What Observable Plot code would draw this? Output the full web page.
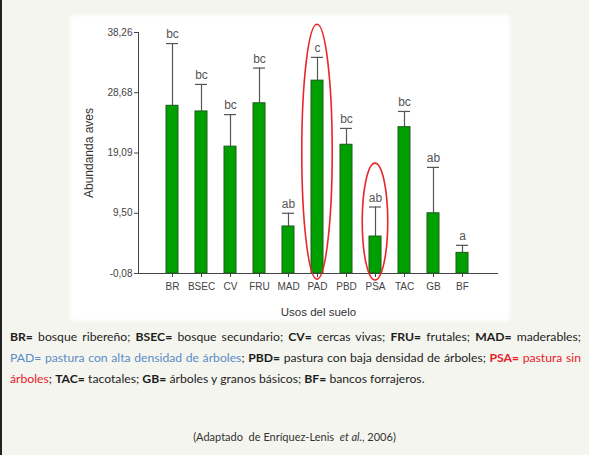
<!DOCTYPE html>
<html><head><meta charset="utf-8">
<script src="https://cdn.jsdelivr.net/npm/d3@7"></script>
<script src="https://cdn.jsdelivr.net/npm/@observablehq/plot@0.6"></script>
<style>
body{margin:0;width:589px;height:455px;background:#f4f5ee;position:relative;overflow:hidden;font-family:Lato,sans-serif}
#border{position:absolute;left:0;top:0;width:2px;height:455px;background:#222}
#panel{position:absolute;left:72px;top:17px;width:436px;height:302px;background:#fff;box-shadow:0 0 4px 2px rgba(255,255,255,0.9)}
#caption{position:absolute;left:10px;top:326px;width:571px;font-size:12.2px;line-height:21px;color:#1e1e1e}
#caption div{white-space:nowrap;text-align:justify;text-align-last:justify}
#caption div.last{text-align-last:left}
#caption b{font-weight:700}
.blue{color:#5b8cc8}
.red{color:#e8202a}
#source{position:absolute;left:0;top:430px;width:589px;text-align:center;font-size:11px;color:#333}
</style></head><body>
<div id="border"></div>
<div id="panel"></div>
<div id="caption">
<div><b>BR=</b> bosque ribereño; <b>BSEC=</b> bosque secundario; <b>CV=</b> cercas vivas; <b>FRU=</b> frutales; <b>MAD=</b> maderables;</div>
<div><span class="blue">PAD= pastura con alta densidad de árboles</span>; <b>PBD=</b> pastura con baja densidad de árboles; <span class="red"><b>PSA=</b> pastura sin</span></div>
<div class="last"><span class="red">árboles</span>; <b>TAC=</b> tacotales; <b>GB=</b> árboles y granos básicos; <b>BF=</b> bancos forrajeros.</div>
</div>
<div id="source">(Adaptado&nbsp; de Enríquez-Lenis&nbsp; <i>et al.</i>, 2006)</div>
<script>
const categories = ["BR","BSEC","CV","FRU","MAD","PAD","PBD","PSA","TAC","GB","BF"];
const means      = [26.6, 25.7, 20.1, 27.0, 7.4, 30.6, 20.4, 5.8, 23.2, 9.5, 3.2];
const errorTops  = [36.5, 30.0, 25.2, 32.6, 9.5, 34.3, 23.0, 10.5, 25.7, 16.8, 4.4];
const letters    = ["bc","bc","bc","bc","ab","c","bc","ab","bc","ab","a"];
const yTicks     = [-0.08, 9.50, 19.09, 28.68, 38.26];
const highlighted     = ["PAD","PSA"];
const highlightTop    = [39.5, 17.4];
const highlightBottom = [-1.05, -1.2];
const highlightWidth  = [1.05, 0.88];

const data = categories.map((c, i) => ({cat: c, mean: means[i], err: errorTops[i], letter: letters[i]}));
const base = yTicks[0];
const fmt = d => d.toFixed(2).replace(".", ",");

const plot = Plot.plot({
  width: 436, height: 302,
  marginLeft: 66, marginRight: 10, marginTop: 15, marginBottom: 46,
  style: {fontFamily: "'Liberation Sans', Arial, sans-serif", fontSize: "10px", color: "#444", background: "transparent", overflow: "visible"},
  x: {domain: categories, range: [81, 409], paddingInner: 0.6, paddingOuter: 0.3},
  y: {domain: [yTicks[0], yTicks[yTicks.length - 1]]},
  marks: [
    Plot.axisY({ticks: yTicks, tickFormat: fmt, tickSize: 4, tickPadding: 2, label: null, fill: "#444"}),
    Plot.axisY({ticks: [], label: "Abundanda aves", labelArrow: "none", labelAnchor: "center", labelOffset: 54, fontSize: 12, fill: "#333"}),
    Plot.axisX({tickSize: 4, tickPadding: 5, label: null, fill: "#444"}),
    Plot.axisX({ticks: [], label: "Usos del suelo", labelArrow: "none", labelAnchor: "center", labelOffset: 42, fontSize: 11.5, fill: "#333"}),
    Plot.frame({anchor: "left", stroke: "#444"}),
    Plot.ruleY([base], {stroke: "#444"}),
    Plot.ruleX(data, {x: "cat", y1: "mean", y2: "err", stroke: "#555", strokeWidth: 1.2}),
    Plot.tickY(data, {x: "cat", y: "err", stroke: "#555", strokeWidth: 1.2}),
    Plot.barY(data, {x: "cat", y1: base, y2: "mean", fill: "#00a000", stroke: "#1a5a1a", strokeWidth: 1}),
    Plot.text(data, {x: "cat", y: "err", text: "letter", dy: -9, fontSize: 12, fill: "#555"})
  ]
});

// red ellipses drawn through the plot's own scales
const xs = plot.scale("x"), ys = plot.scale("y");
const step = xs.step ?? (xs.bandwidth / 0.4);
const svg = d3.select(plot);
highlighted.forEach((c, i) => {
  const cx = xs.apply(c) + xs.bandwidth / 2;
  const yt = ys.apply(highlightTop[i]), yb = ys.apply(highlightBottom[i]);
  svg.append("ellipse")
    .attr("cx", cx).attr("cy", (yt + yb) / 2)
    .attr("rx", step * highlightWidth[i] / 2).attr("ry", (yb - yt) / 2)
    .attr("fill", "none").attr("stroke", "#e8262b").attr("stroke-width", 1.6);
});
plot.style.position = "absolute";
plot.style.left = "0px";
plot.style.top = "0px";
document.getElementById("panel").appendChild(plot);
</script>
</body></html>
